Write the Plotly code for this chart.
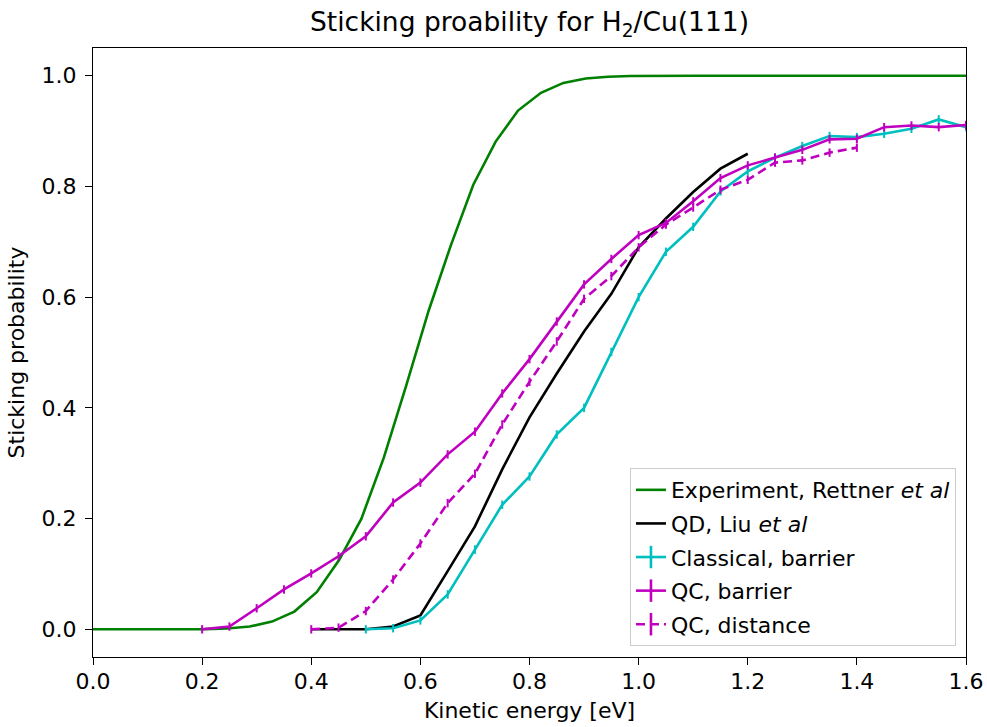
import plotly.graph_objects as go

# Measured sticking probability (Rettner et al), energy grid in eV
exp_energy = [0.000, 0.041, 0.082, 0.123, 0.164, 0.205, 0.246, 0.287, 0.328, 0.369,
              0.410, 0.451, 0.492, 0.533, 0.574, 0.615, 0.656, 0.697, 0.738, 0.779,
              0.821, 0.862, 0.903, 0.944, 0.985, 1.026, 1.067, 1.108, 1.149, 1.190,
              1.231, 1.272, 1.313, 1.354, 1.395, 1.436, 1.477, 1.518, 1.559, 1.600]
exp_stick = [0.0, 0.0, 0.0, 0.0, 0.0001, 0.0004, 0.0015, 0.005, 0.014, 0.032,
             0.067, 0.125, 0.200, 0.310, 0.440, 0.575, 0.694, 0.803, 0.881, 0.937,
             0.969, 0.987, 0.995, 0.998, 0.9995, 1.0, 1.0, 1.0, 1.0, 1.0,
             1.0, 1.0, 1.0, 1.0, 1.0, 1.0, 1.0, 1.0, 1.0, 1.0]

# Quantum dynamics (Liu et al)
qd_energy = [0.40, 0.45, 0.50, 0.55, 0.60, 0.65, 0.70, 0.75, 0.80, 0.85,
             0.90, 0.95, 1.00, 1.05, 1.10, 1.15, 1.20]
qd_stick = [0.0, 0.0, 0.0, 0.005, 0.025, 0.105, 0.186, 0.289, 0.383, 0.462,
            0.538, 0.606, 0.690, 0.742, 0.790, 0.832, 0.859]

# Classical trajectories, barrier sampling
cl_energy = [0.50, 0.55, 0.60, 0.65, 0.70, 0.75, 0.80, 0.85, 0.90, 0.95,
             1.00, 1.05, 1.10, 1.15, 1.20, 1.25, 1.30, 1.35, 1.40, 1.45,
             1.50, 1.55, 1.60]
cl_stick = [0.0, 0.002, 0.016, 0.063, 0.144, 0.225, 0.276, 0.352, 0.400, 0.501,
            0.600, 0.682, 0.727, 0.791, 0.827, 0.852, 0.873, 0.891, 0.889, 0.895,
            0.904, 0.921, 0.907]

# Quasi-classical trajectories, barrier sampling
qcb_energy = [0.20, 0.25, 0.30, 0.35, 0.40, 0.45, 0.50, 0.55, 0.60, 0.65,
              0.70, 0.75, 0.80, 0.85, 0.90, 0.95, 1.00, 1.05, 1.10, 1.15,
              1.20, 1.25, 1.30, 1.35, 1.40, 1.45, 1.50, 1.55, 1.60]
qcb_stick = [0.0, 0.005, 0.038, 0.072, 0.101, 0.132, 0.168, 0.229, 0.265, 0.316,
             0.357, 0.426, 0.488, 0.556, 0.623, 0.669, 0.712, 0.734, 0.773, 0.815,
             0.838, 0.852, 0.866, 0.885, 0.886, 0.907, 0.910, 0.907, 0.911]

# Quasi-classical trajectories, distance sampling
qcd_energy = [0.40, 0.45, 0.50, 0.55, 0.60, 0.65, 0.70, 0.75, 0.80, 0.85,
              0.90, 0.95, 1.00, 1.05, 1.10, 1.15, 1.20, 1.25, 1.30, 1.35, 1.40]
qcd_stick = [0.0, 0.003, 0.033, 0.090, 0.155, 0.228, 0.281, 0.370, 0.447, 0.520,
             0.597, 0.638, 0.690, 0.731, 0.762, 0.794, 0.812, 0.843, 0.847, 0.861, 0.870]

x_ticks = [0.0, 0.2, 0.4, 0.6, 0.8, 1.0, 1.2, 1.4, 1.6]
y_ticks = [0.0, 0.2, 0.4, 0.6, 0.8, 1.0]

GREEN = "#008000"
CYAN = "#00BFBF"
MAGENTA = "#BF00BF"
LW = 2.6
FS = 22

fig = go.Figure()

fig.add_trace(go.Scatter(x=exp_energy, y=exp_stick, mode="lines",
                         line=dict(color=GREEN, width=LW),
                         name="Experiment, Rettner <i>et al</i>",
                         legendgroup="a", legendrank=1))
fig.add_trace(go.Scatter(x=qd_energy, y=qd_stick, mode="lines",
                         line=dict(color="black", width=LW),
                         name="QD, Liu <i>et al</i>",
                         legendgroup="b", legendrank=2))

# simulated curves: small vertical ticks mark the statistical error bars
sim = [
    (cl_energy, cl_stick, CYAN, "solid", "Classical, barrier", "c", 3),
    (qcb_energy, qcb_stick, MAGENTA, "solid", "QC, barrier", "d", 4),
    (qcd_energy, qcd_stick, MAGENTA, "9px,5px", "QC, distance", "e", 5),
]
for xs, ys, col, dash, name, grp, rank in sim:
    m = dict(symbol="line-ns-open", size=6, color=col, line=dict(width=2, color=col))
    fig.add_trace(go.Scatter(x=xs, y=ys, mode="lines+markers",
                             line=dict(color=col, width=LW, dash=dash),
                             marker=m, showlegend=False, legendgroup=grp))
    lm = dict(symbol="line-ns-open", size=16, color=col, line=dict(width=2.6, color=col))
    fig.add_trace(go.Scatter(x=[None], y=[None], mode="lines+markers",
                             line=dict(color=col, width=LW, dash=dash),
                             marker=lm, name=name, legendgroup=grp, legendrank=rank))

axis_common = dict(showline=True, linecolor="black", linewidth=1.3, mirror=True,
                   ticks="outside", ticklen=7, tickwidth=1.3, tickcolor="black",
                   showgrid=False, zeroline=False, tickformat=".1f",
                   tickfont=dict(size=FS), automargin=False)

fig.update_xaxes(range=[0, 1.6], tickvals=x_ticks, ticklabelstandoff=-3,
                 title=dict(text="Kinetic energy [eV]", font=dict(size=FS), standoff=10),
                 **axis_common)
fig.update_yaxes(range=[-0.05, 1.05], tickvals=y_ticks, ticklabelstandoff=4,
                 title=dict(text="Sticking probability", font=dict(size=FS), standoff=10),
                 **axis_common)

fig.update_layout(
    width=987, height=727,
    margin=dict(l=93, r=21, t=48, b=70, autoexpand=False),
    paper_bgcolor="white", plot_bgcolor="white",
    font=dict(family="DejaVu Sans", size=FS, color="black"),
    title=dict(text="Sticking proability for H<sub>2</sub>/Cu(111)",
               x=0.5, xref="paper", xanchor="center",
               y=1 - 22 / 727, yanchor="middle", font=dict(size=26.5)),
    legend=dict(x=0.9885, xanchor="right", y=0.018, yanchor="bottom",
                bordercolor="#cccccc", borderwidth=1, bgcolor="rgba(255,255,255,0.8)",
                font=dict(size=FS), traceorder="grouped", tracegroupgap=2),
    showlegend=True,
)

fig.write_html("out.html")
